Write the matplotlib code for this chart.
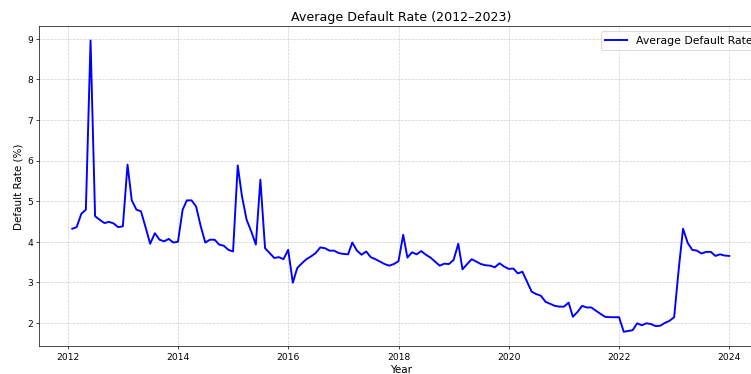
import numpy as np
import pandas as pd
import matplotlib
matplotlib.use("Agg")
import matplotlib.pyplot as plt
import matplotlib.dates as mdates

# Average default rate, monthly (month end), Jan 2012 - Dec 2023
fechas = pd.date_range("2012-01-31", "2023-12-31", freq="ME")

tasa_2012 = [4.32, 4.36, 4.69, 4.79, 8.96, 4.63, 4.54, 4.46, 4.49, 4.45, 4.36, 4.38]
tasa_2013 = [5.90, 5.02, 4.79, 4.75, 4.35, 3.95, 4.21, 4.05, 4.01, 4.07, 3.98, 4.00]
tasa_2014 = [4.79, 5.02, 5.02, 4.87, 4.38, 3.98, 4.05, 4.05, 3.93, 3.90, 3.80, 3.76]
tasa_2015 = [5.88, 5.12, 4.54, 4.26, 3.93, 5.53, 3.84, 3.72, 3.60, 3.62, 3.57, 3.80]
tasa_2016 = [2.99, 3.35, 3.47, 3.57, 3.64, 3.72, 3.86, 3.84, 3.78, 3.78, 3.72, 3.70]
tasa_2017 = [3.69, 3.98, 3.78, 3.68, 3.76, 3.62, 3.57, 3.51, 3.45, 3.41, 3.45, 3.52]
tasa_2018 = [4.17, 3.61, 3.74, 3.69, 3.77, 3.68, 3.61, 3.51, 3.41, 3.46, 3.45, 3.55]
tasa_2019 = [3.95, 3.32, 3.45, 3.57, 3.51, 3.45, 3.42, 3.41, 3.37, 3.47, 3.39, 3.33]
tasa_2020 = [3.34, 3.22, 3.26, 3.02, 2.77, 2.71, 2.67, 2.52, 2.47, 2.42, 2.40, 2.40]
tasa_2021 = [2.50, 2.15, 2.27, 2.42, 2.38, 2.38, 2.30, 2.22, 2.15, 2.14, 2.14, 2.14]
tasa_2022 = [1.78, 1.80, 1.82, 1.99, 1.94, 1.99, 1.97, 1.92, 1.93, 2.00, 2.05, 2.14]
tasa_2023 = [3.35, 4.32, 3.97, 3.80, 3.78, 3.71, 3.75, 3.75, 3.65, 3.69, 3.66, 3.65]

tasa = np.array(tasa_2012 + tasa_2013 + tasa_2014 + tasa_2015 + tasa_2016 + tasa_2017
                + tasa_2018 + tasa_2019 + tasa_2020 + tasa_2021 + tasa_2022 + tasa_2023)

fig = plt.figure(figsize=(12, 5.98), dpi=62.6)
ax = fig.add_axes([0.0525, 0.0738, 0.962, 0.856])

ax.plot(fechas, tasa, color="blue", linewidth=2.2, label="Average Default Rate")

ax.xaxis.set_major_locator(mdates.YearLocator(2))
ax.xaxis.set_major_formatter(mdates.DateFormatter("%Y"))
ax.tick_params(labelsize=10.5)

ax.set_title("Average Default Rate (2012\u20132023)", fontsize=14.5)
ax.set_xlabel("Year", fontsize=12)
ax.set_ylabel("Default Rate (%)", fontsize=12)
ax.grid(True, linestyle="--", alpha=0.6)
ax.legend(loc="upper right", fontsize=12.5)

fig.savefig("out.png", dpi=62.6)
